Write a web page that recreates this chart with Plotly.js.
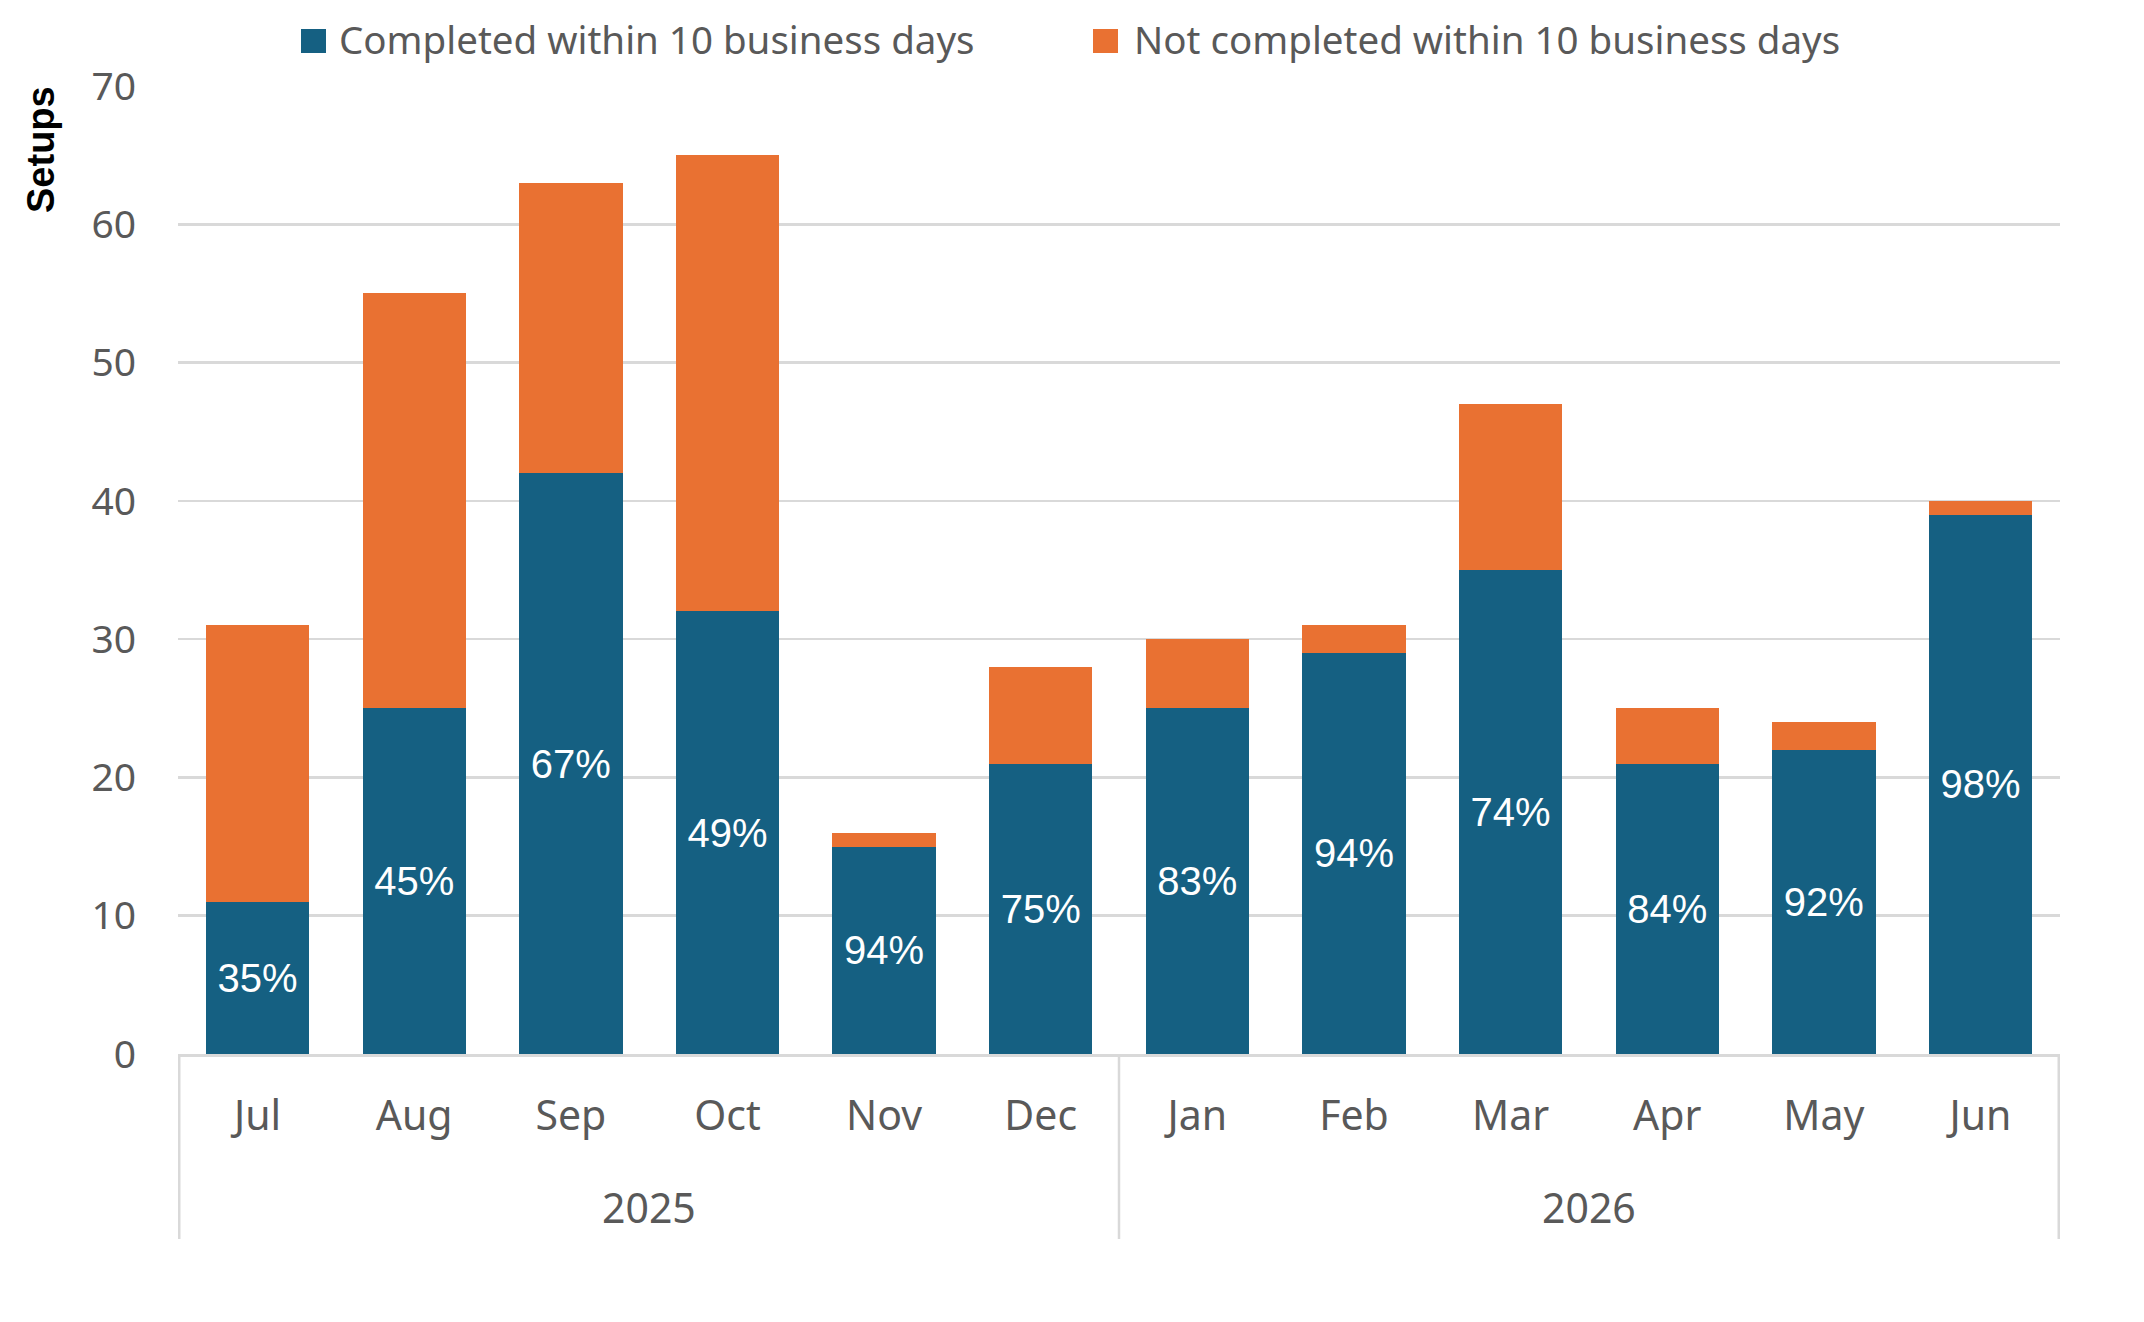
<!DOCTYPE html>
<html>
<head>
<meta charset="utf-8">
<script src="https://cdn.plot.ly/plotly-3.0.1.min.js"></script>
<style>
  html, body { margin:0; padding:0; background:#fff; }
  #chart { width:2144px; height:1322px; }
</style>
</head>
<body>
<div id="chart"></div>
<script>
// ── Data ────────────────────────────────────────────────
const years     = ['2025','2025','2025','2025','2025','2025','2026','2026','2026','2026','2026','2026'];
const months    = ['Jul','Aug','Sep','Oct','Nov','Dec','Jan','Feb','Mar','Apr','May','Jun'];
const completed = [11, 25, 42, 32, 15, 21, 25, 29, 35, 21, 22, 39];
const notDone   = [20, 30, 21, 33,  1,  7,  5,  2, 12,  4,  2,  1];
const pctLabels = ['35%','45%','67%','49%','94%','75%','83%','94%','74%','84%','92%','98%'];
const seriesNames = ['Completed within 10 business days', 'Not completed within 10 business days'];

const C = { blue:'#156082', orange:'#E97132', grid:'#D9D9D9', text:'#595959' };
const AXFONT  = '"Noto Sans", "Open Sans", sans-serif';
const LBLFONT = '"Liberation Sans", Arial, sans-serif';

const W = 2144, H = 1322;
const M = {t:86, r:84, b:268, l:178};
const plotW = W - M.l - M.r, plotH = H - M.t - M.b;
const pxX = px => (px - M.l) / plotW;          // page px -> paper x
const pxY = py => (H - M.b - py) / plotH;      // page px -> paper y

const traces = [
  {
    type:'bar', name:seriesNames[0],
    x:months, y:completed,
    marker:{color:C.blue},
    text:pctLabels, textposition:'inside', insidetextanchor:'middle',
    textangle:0, constraintext:'none',
    insidetextfont:{family:LBLFONT, size:40, color:'#fff'},
    showlegend:false, hoverinfo:'skip'
  },
  {
    type:'bar', name:seriesNames[1],
    x:months, y:notDone,
    marker:{color:C.orange},
    showlegend:false, hoverinfo:'skip'
  }
];

// ── Year groups: dividers + centred year labels ─────────
const shapes = [], annotations = [];
const groups = [];
years.forEach((yr, i) => {
  if (!groups.length || groups[groups.length-1].yr !== yr) groups.push({yr, start:i, end:i});
  else groups[groups.length-1].end = i;
});
const divBottom = pxY(1239);
const divLine = x => ({type:'line', xref:'x', yref:'paper', x0:x, x1:x, y0:0, y1:divBottom,
                       line:{color:C.grid, width:2.5}});
shapes.push(divLine(-0.5));
groups.forEach(g => {
  shapes.push(divLine(g.end + 0.5));
  annotations.push({
    text:g.yr, xref:'x', yref:'paper', x:(g.start + g.end) / 2, y:pxY(1207),
    xanchor:'center', yanchor:'middle', showarrow:false,
    font:{family:AXFONT, size:41, color:C.text}
  });
});

// ── Legend (drawn by hand for Excel-sized swatches) ─────
const legendItems = [
  {name:seriesNames[0], color:C.blue,   sq:301,  tx:337},
  {name:seriesNames[1], color:C.orange, sq:1093, tx:1132}
];
legendItems.forEach(it => {
  shapes.push({type:'rect', xref:'paper', yref:'paper',
    x0:pxX(it.sq), x1:pxX(it.sq + 25), y0:pxY(53), y1:pxY(29),
    fillcolor:it.color, line:{width:0}});
  annotations.push({text:it.name, xref:'paper', yref:'paper',
    x:pxX(it.tx), y:pxY(39), xanchor:'left', yanchor:'middle', showarrow:false,
    font:{family:AXFONT, size:38.5, color:C.text}});
});

// ── Y title, top-aligned like Excel ─────────────────────
annotations.push({
  text:'<b>Setups</b>', textangle:-90,
  xref:'paper', yref:'paper', x:pxX(41), y:pxY(150),
  xanchor:'center', yanchor:'middle', showarrow:false,
  font:{family:LBLFONT, size:38, color:'#000'}
});

const layout = {
  width:W, height:H,
  barmode:'stack', bargap:0.34,
  paper_bgcolor:'#fff', plot_bgcolor:'#fff',
  margin:M,
  font:{family:AXFONT, color:C.text, size:38},
  showlegend:false,
  xaxis:{
    type:'category',
    showline:true, linecolor:C.grid, linewidth:2.5,
    showgrid:false, ticks:'', ticklabelstandoff:24,
    tickfont:{family:AXFONT, size:41, color:C.text}
  },
  yaxis:{
    range:[0,70], dtick:10, tick0:0,
    showgrid:true, gridcolor:C.grid, gridwidth:2.5,
    zeroline:false, showline:false, ticks:'',
    ticklabelstandoff:41,
    tickfont:{family:AXFONT, size:39, color:C.text}
  },
  shapes, annotations
};

Plotly.newPlot('chart', traces, layout, {displayModeBar:false, staticPlot:true});
</script>
</body>
</html>
